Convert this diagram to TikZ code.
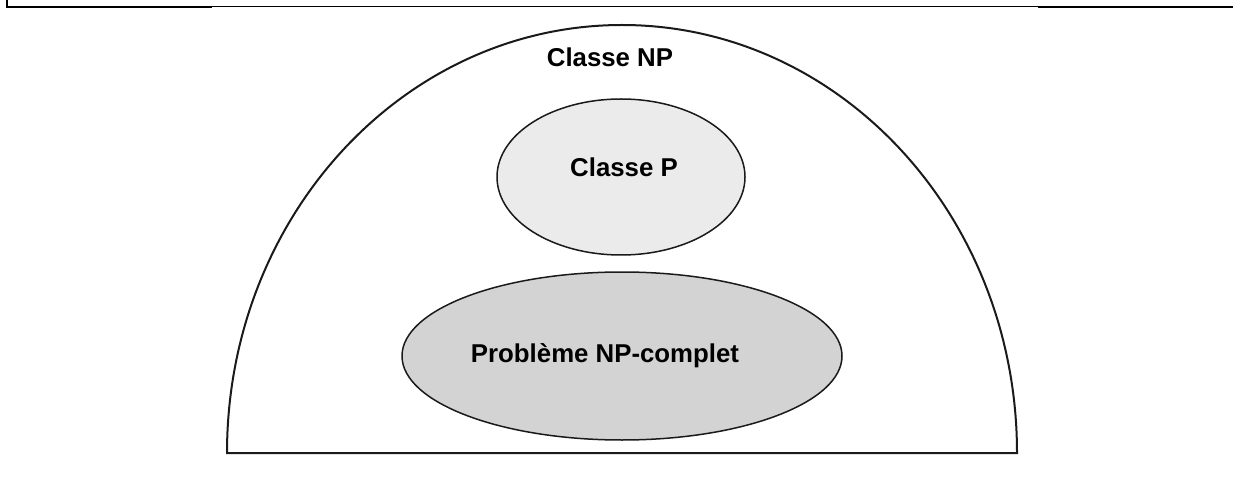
\documentclass[tikz,border=0pt]{standalone}
\usepackage{fontspec}
\setmainfont{Liberation Sans}
\usetikzlibrary{shapes.geometric}
\definecolor{pfill}{HTML}{EBEBEB}
\definecolor{npcfill}{HTML}{D3D3D3}
\definecolor{edge}{HTML}{1A1A1A}
\begin{document}
\begin{tikzpicture}[x=1pt,y=1pt,
  lbl/.style={font=\fontsize{25.8}{30}\selectfont\bfseries, text=black, inner sep=0pt, anchor=base},
  setshape/.style={ellipse, draw=edge, line width=1.5pt, inner sep=0pt}]
\useasboundingbox (0,0) rectangle (1233,477);
% frame
\draw[line width=2pt] (7,477) -- (7,469.5) -- (212,469.5);
\draw[line width=1pt] (212,470) -- (1038,470);
\draw[line width=2pt] (1038,469.5) -- (1233,469.5);
% dome (class NP)
\draw[draw=edge, line width=2pt] (227,24) arc[start angle=180, end angle=0, x radius=395, y radius=428] -- cycle;
\node[lbl] (np) at (610,410) {Classe NP};
% class P
\node[setshape, fill=pfill, minimum width=248, minimum height=156] (p) at (621,300) {};
\node[lbl] (plbl) at (624,300) {Classe P};
% NP-complete
\node[setshape, fill=npcfill, minimum width=440, minimum height=168] (npc) at (622,121) {};
\node[lbl] (npclbl) at (605,115) {Problème NP-complet};
\end{tikzpicture}
\end{document}
